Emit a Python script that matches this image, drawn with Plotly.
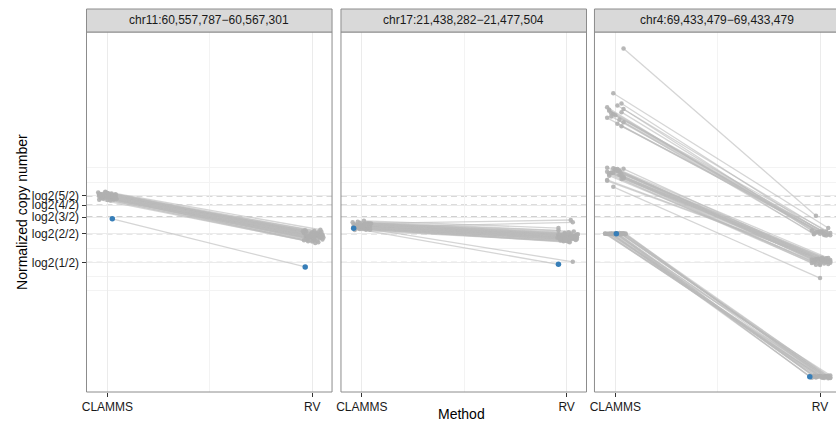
import math
import plotly.graph_objects as go

# ---- labels -------------------------------------------------------------
regions = ["chr11:60,557,787\u221260,567,301",
           "chr17:21,438,282\u221221,477,504",
           "chr4:69,433,479\u221269,433,479"]
methods = ["CLAMMS", "RV"]
copy_ratios = [(1, 2), (2, 2), (3, 2), (4, 2), (5, 2)]
break_labels = ["log2(%d/%d)" % r for r in copy_ratios]
break_vals = [math.log2(a / b) for a, b in copy_ratios]

# ---- chr11 samples ------------------------------------------------------
p1_clamms = [1.31, 1.27, 1.38, 1.22, 1.35, 1.29, 1.42, 1.25, 1.33, 1.19,
             1.37, 1.30, 1.26, 1.45, 1.28, 1.34, 1.21, 1.39, 1.32, 1.24,
             1.36, 1.29, 1.41, 1.27, 1.33, 1.18, 1.30, 1.38, 1.23, 1.35,
             1.28, 1.47, 1.31, 1.26, 1.40, 1.34, 1.20, 1.32, 1.29, 1.37,
             1.24, 1.39, 1.16, 1.44, 1.30, 1.35, 1.21, 1.28, 1.41, 1.33]
p1_rv = [-0.08, -0.12, 0.02, -0.18, -0.05, -0.10, 0.06, -0.21, -0.03, -0.26,
         0.00, -0.09, -0.14, 0.10, -0.11, -0.04, -0.23, 0.04, -0.07, -0.16,
         -0.02, -0.13, 0.08, -0.19, -0.06, -0.30, -0.10, 0.03, -0.20, -0.01,
         -0.15, 0.14, -0.08, -0.17, 0.05, -0.05, -0.27, -0.09, -0.12, 0.01,
         -0.20, 0.07, -0.32, 0.12, -0.09, 0.00, -0.24, -0.13, 0.09, -0.04]
p1_clamms_jit = [-0.03, 0.01, -0.04, 0.02, 0.04, -0.01, 0.00, -0.02, 0.03, -0.04,
                 0.01, 0.04, -0.03, -0.01, 0.02, 0.00, 0.03, -0.04, -0.02, 0.04,
                 0.01, -0.03, 0.02, -0.01, 0.03, 0.00, -0.04, 0.04, -0.02, 0.01,
                 -0.03, -0.01, 0.02, 0.04, -0.04, 0.00, 0.03, -0.02, 0.01, -0.035,
                 0.035, -0.025, 0.015, -0.045, 0.025, -0.015, 0.045, -0.005, 0.005, -0.035]
p1_rv_jit = [0.02, -0.03, 0.04, 0.00, -0.01, 0.03, -0.04, 0.01, 0.05, -0.02,
             0.02, -0.03, 0.04, 0.01, -0.01, 0.03, -0.04, 0.00, 0.05, -0.02,
             0.02, 0.04, -0.03, 0.01, -0.01, 0.03, 0.00, -0.04, 0.05, 0.02,
             -0.02, 0.04, -0.01, 0.01, 0.03, -0.03, 0.00, 0.05, -0.02, 0.02,
             -0.025, 0.045, 0.015, -0.035, 0.035, -0.005, 0.025, 0.055, -0.045, 0.005]
p1_case = {"clamms": 0.52, "rv": -1.16, "clamms_jit": 0.024, "rv_jit": -0.034}

# ---- chr17 samples ------------------------------------------------------
p2_clamms = [0.27, 0.22, 0.33, 0.18, 0.30, 0.25, 0.38, 0.20, 0.29, 0.15,
             0.35, 0.24, 0.31, 0.42, 0.21, 0.28, 0.17, 0.34, 0.26, 0.23,
             0.32, 0.19, 0.37, 0.25, 0.30, 0.14, 0.27, 0.36, 0.21, 0.29,
             0.24, 0.45, 0.28, 0.22, 0.33, 0.26, 0.16, 0.31, 0.23, 0.20,
             0.26, 0.34, 0.18, 0.40, 0.29, 0.22, 0.36, 0.13, 0.31, 0.25]
p2_rv = [-0.10, -0.15, -0.02, -0.20, -0.07, -0.12, 0.05, -0.18, -0.05, -0.25,
         0.00, -0.13, -0.08, 0.12, -0.16, -0.09, -0.22, -0.03, -0.11, -0.17,
         -0.06, -0.19, 0.03, -0.14, -0.08, -0.28, -0.12, 0.48, -0.21, -0.04,
         -0.15, 0.20, -0.10, -0.18, -0.01, -0.13, -0.24, -0.07, 0.40, -0.98,
         -0.22, -0.05, -0.30, 0.08, -0.14, -0.19, -0.02, -0.26, -0.11, -0.16]
p2_clamms_jit = [0.02, -0.04, 0.01, 0.03, -0.02, 0.04, -0.01, 0.00, -0.03, 0.02,
                 0.04, -0.04, 0.01, -0.02, 0.03, 0.00, -0.01, 0.04, -0.03, 0.02,
                 -0.04, 0.01, 0.03, -0.02, 0.00, 0.04, -0.01, 0.02, -0.03, 0.03,
                 -0.04, 0.01, 0.00, -0.02, 0.04, -0.01, 0.02, -0.03, 0.03, 0.01,
                 -0.025, 0.035, 0.005, -0.045, 0.025, -0.015, 0.045, -0.035, 0.015, -0.005]
p2_rv_jit = [-0.01, 0.03, -0.04, 0.02, 0.04, -0.02, 0.01, 0.05, -0.03, 0.00,
             0.02, -0.01, 0.04, -0.04, 0.03, 0.01, -0.02, 0.05, 0.00, -0.03,
             0.02, 0.04, -0.01, 0.03, -0.04, 0.01, 0.05, 0.02, -0.02, 0.00,
             0.03, -0.04, 0.04, 0.01, -0.01, 0.02, -0.03, 0.05, 0.03, 0.03,
             0.045, -0.025, 0.015, 0.035, -0.045, 0.005, 0.055, -0.015, 0.025, -0.035]
p2_case = {"clamms": 0.19, "rv": -1.07, "clamms_jit": -0.04, "rv_jit": -0.04}

# ---- chr4 samples -------------------------------------------------------
p3_clamms = [6.47, 4.91, 4.55, 4.42, 4.48, 4.30, 4.36, 4.21, 4.14, 4.25,
             4.05, 3.98, 4.18, 3.90, 4.33, 3.84, 4.10, 3.76,
             2.31, 2.22, 2.15, 2.27, 2.08, 2.19, 2.02, 2.12, 2.25, 1.96,
             2.17, 2.06, 2.29, 1.91, 2.11, 2.20, 1.99, 2.14, 2.24, 1.88,
             2.09, 2.18, 2.03, 2.26, 1.94, 2.13, 1.85, 1.64,
             0.01, -0.02, 0.00, 0.02, -0.01, 0.00, 0.03, -0.02, 0.01, 0.00,
             -0.01, 0.02, 0.00, -0.03, 0.01, 0.00, 0.02, -0.01, 0.00, 0.01,
             -0.02, 0.00, 0.01, -0.01]
p3_rv = [0.63, 0.20, 0.05, -0.02, 0.08, 0.00, 0.11, -0.04, 0.03, 0.06,
         -0.06, 0.01, 0.09, -0.03, 0.04, -0.01, 0.07, -0.05,
         -0.86, -0.93, -0.97, -0.89, -1.02, -0.91, -1.06, -0.95, -0.84, -1.00,
         -0.92, -0.98, -0.88, -1.09, -0.94, -0.90, -1.04, -0.96, -0.87, -1.01,
         -0.99, -0.93, -1.05, -0.85, -1.08, -0.95, -0.91, -1.55,
         -4.98, -5.02, -4.96, -5.01, -5.04, -4.99, -4.97, -5.03, -5.00, -4.95,
         -5.02, -4.98, -5.05, -5.00, -4.97, -5.01, -4.99, -5.03, -4.96, -5.00,
         -5.02, -4.98, -5.04, -4.99]
p3_clamms_jit = [0.04, -0.01, 0.03, -0.04, 0.01, -0.03, 0.04, -0.02, 0.00, 0.03,
                 -0.04, 0.02, -0.01, 0.04, -0.03, 0.01, -0.02, 0.03,
                 -0.04, 0.02, -0.01, 0.04, -0.03, 0.01, 0.03, -0.02, 0.00, 0.04,
                 -0.04, 0.02, -0.01, 0.03, -0.03, 0.01, 0.04, -0.02, 0.00, -0.04,
                 0.03, 0.02, -0.03, 0.01, 0.04, -0.01, -0.04, -0.01,
                 -0.05, 0.03, -0.02, 0.04, 0.00, -0.04, 0.02, -0.01, 0.05, -0.03,
                 0.01, 0.03, -0.05, 0.02, -0.02, 0.04, 0.00, -0.04, 0.03, -0.01,
                 0.05, -0.03, 0.01, -0.02]
p3_rv_jit = [-0.02, 0.04, 0.01, -0.03, 0.03, 0.00, -0.04, 0.02, 0.05, -0.01,
             0.03, -0.03, 0.01, 0.04, -0.02, 0.02, 0.00, 0.05,
             0.03, -0.02, 0.05, 0.00, -0.04, 0.02, 0.04, -0.01, 0.01, -0.03,
             0.05, 0.03, -0.02, 0.00, 0.04, -0.04, 0.02, 0.01, -0.01, 0.05,
             0.03, -0.03, 0.00, 0.04, -0.02, 0.02, 0.01, 0.00,
             0.00, 0.04, -0.03, 0.02, 0.05, -0.01, 0.03, -0.04, 0.01, 0.05,
             -0.02, 0.02, 0.04, -0.03, 0.00, 0.03, -0.05, 0.01, 0.04, -0.02,
             0.05, 0.00, 0.02, -0.01]
p3_case = {"clamms": 0.00, "rv": -5.00, "clamms_jit": 0.005, "rv_jit": -0.05}

panels = [
    (p1_clamms, p1_rv, p1_clamms_jit, p1_rv_jit, p1_case),
    (p2_clamms, p2_rv, p2_clamms_jit, p2_rv_jit, p2_case),
    (p3_clamms, p3_rv, p3_clamms_jit, p3_rv_jit, p3_case),
]

# ---- geometry -----------------------------------------------------------
W, H = 836, 426
FONT = "Liberation Sans, Arial, Helvetica, sans-serif"
x_domains = [(82 / W, 329 / W), (338 / W, 585 / W), (593 / W, 1.0)]
x_ranges = [(0.898, 2.097), (0.898, 2.097), (0.898, 2.078)]
y_domain = (1 - 392 / H, 1 - 32 / H)
y_range = (-5.53, 7.05)
strip_y = (1 - 32 / H, 1 - 9 / H)
minor_y = [-2.0, -1.5, -0.5, 1.78, 2.30]

LINE_COL = "rgba(188,188,188,0.62)"
PT_COL = "rgba(176,176,176,0.9)"
CASE_COL = "#377EB8"

fig = go.Figure()
for i, (cl, rv, cj, rj, case) in enumerate(panels):
    assert len(cl) == len(rv) == len(cj) == len(rj)
    xa = "x" if i == 0 else "x%d" % (i + 1)
    ya = "y" if i == 0 else "y%d" % (i + 1)
    lx, ly = [], []
    for c, r, a, b in zip(cl, rv, cj, rj):
        lx += [1 + a, 2 + b, None]
        ly += [c, r, None]
    lx += [1 + case["clamms_jit"], 2 + case["rv_jit"], None]
    ly += [case["clamms"], case["rv"], None]
    fig.add_trace(go.Scatter(x=lx, y=ly, mode="lines", xaxis=xa, yaxis=ya,
                             line=dict(color=LINE_COL, width=1.3),
                             hoverinfo="skip", showlegend=False))
    px = [1 + a for a in cj] + [2 + b for b in rj]
    py = list(cl) + list(rv)
    fig.add_trace(go.Scatter(x=px, y=py, mode="markers", xaxis=xa, yaxis=ya,
                             marker=dict(color=PT_COL, size=4.5, line=dict(width=0)),
                             showlegend=False))
    fig.add_trace(go.Scatter(x=[1 + case["clamms_jit"], 2 + case["rv_jit"]],
                             y=[case["clamms"], case["rv"]],
                             mode="markers", xaxis=xa, yaxis=ya,
                             marker=dict(color=CASE_COL, size=5.5, line=dict(width=0)),
                             showlegend=False))

shapes = []
annotations = []
layout = dict(
    width=W, height=H,
    margin=dict(l=0, r=0, t=0, b=0),
    paper_bgcolor="white", plot_bgcolor="white",
    font=dict(family=FONT, size=12, color="#1a1a1a"),
    showlegend=False,
)
for i in range(3):
    sfx = "" if i == 0 else str(i + 1)
    xref = "x" + sfx
    yref = "y" + sfx
    layout["xaxis" + sfx] = dict(
        domain=list(x_domains[i]), range=list(x_ranges[i]), anchor=yref,
        tickmode="array", tickvals=[1, 2], ticktext=methods,
        ticks="outside", ticklen=4, tickwidth=1, tickcolor="#333333",
        tickfont=dict(size=12, color="#1a1a1a", family=FONT),
        showgrid=True, gridcolor="#EBEBEB", gridwidth=1, zeroline=False,
        showline=False,
        minor=dict(tickvals=[1.5], showgrid=True, gridcolor="#F3F3F3",
                   gridwidth=1, ticks=""),
    )
    ydict = dict(
        domain=list(y_domain), range=list(y_range), anchor=xref,
        tickmode="array", tickvals=break_vals, ticktext=break_labels,
        showgrid=True, gridcolor="#EBEBEB", gridwidth=1, zeroline=False,
        showline=False,
        minor=dict(tickvals=minor_y, showgrid=True, gridcolor="#F3F3F3",
                   gridwidth=1, ticks=""),
    )
    if i == 0:
        ydict.update(ticks="outside", ticklen=4, tickwidth=1, tickcolor="#333333",
                     tickfont=dict(size=12, color="#1a1a1a", family=FONT))
    else:
        ydict.update(showticklabels=False, ticks="", matches="y")
    layout["yaxis" + sfx] = ydict

    # dashed reference lines at the copy-number breaks
    for v in break_vals:
        shapes.append(dict(type="line", xref=xref + " domain", yref=yref,
                           x0=0, x1=1, y0=v, y1=v, layer="below",
                           line=dict(color="#A0A0A0", width=1, dash="6px,4px")))

    x0p = x_domains[i][0]
    x1p = x_domains[i][1] if i < 2 else 840 / W
    # panel border
    shapes.append(dict(type="rect", xref="paper", yref="paper",
                       x0=x0p, x1=x1p, y0=y_domain[0], y1=y_domain[1],
                       line=dict(color="#8C8C8C", width=1), layer="above"))
    # facet strip
    shapes.append(dict(type="rect", xref="paper", yref="paper",
                       x0=x0p, x1=x1p, y0=strip_y[0], y1=strip_y[1],
                       fillcolor="#D9D9D9", line=dict(color="#8C8C8C", width=1),
                       layer="above"))
    annotations.append(dict(text=regions[i], xref="paper", yref="paper",
                            x=(x_domains[i][0] + x_domains[i][1]) / 2 if i < 2
                            else (593 + 840) / 2 / W,
                            y=(strip_y[0] + strip_y[1]) / 2,
                            xanchor="center", yanchor="middle", showarrow=False,
                            font=dict(size=12, color="#1a1a1a", family=FONT)))

annotations.append(dict(text="Method", xref="paper", yref="paper",
                        x=459 / W, y=1 - 414 / H, xanchor="center",
                        yanchor="middle", showarrow=False,
                        font=dict(size=14, color="#000000", family=FONT)))
annotations.append(dict(text="Normalized copy number", xref="paper", yref="paper",
                        x=17 / W, y=1 - 212 / H, xanchor="center",
                        yanchor="middle", showarrow=False, textangle=-90,
                        font=dict(size=14, color="#000000", family=FONT)))

layout["shapes"] = shapes
layout["annotations"] = annotations
fig.update_layout(**layout)
fig.write_html("out.html")
